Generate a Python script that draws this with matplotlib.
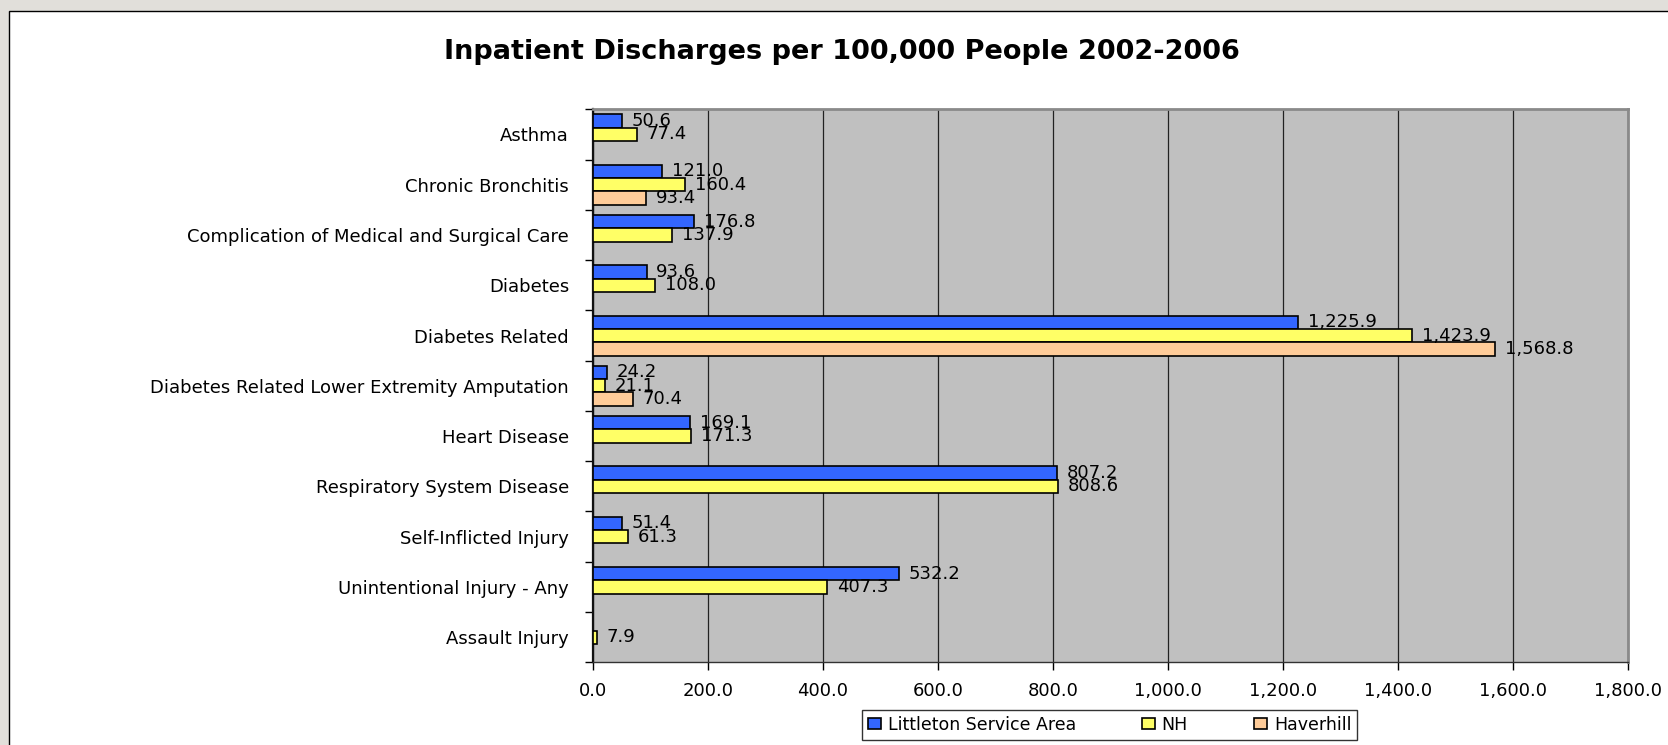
import matplotlib
matplotlib.use("Agg")
import matplotlib.pyplot as plt
import numpy as np
from matplotlib.patches import Rectangle

# ---------------- data ----------------
categories = [
    "Asthma",
    "Chronic Bronchitis",
    "Complication of Medical and Surgical Care",
    "Diabetes",
    "Diabetes Related",
    "Diabetes Related Lower Extremity Amputation",
    "Heart Disease",
    "Respiratory System Disease",
    "Self-Inflicted Injury",
    "Unintentional Injury - Any",
    "Assault Injury",
]
littleton = [50.6, 121.0, 176.8, 93.6, 1225.9, 24.2, 169.1, 807.2, 51.4, 532.2, np.nan]
nh = [77.4, 160.4, 137.9, 108.0, 1423.9, 21.1, 171.3, 808.6, 61.3, 407.3, 7.9]
haverhill = [np.nan, 93.4, np.nan, np.nan, 1568.8, 70.4, np.nan, np.nan, np.nan, np.nan, np.nan]
series_names = ["Littleton Service Area", "NH", "Haverhill"]
x_ticks = [0, 200, 400, 600, 800, 1000, 1200, 1400, 1600, 1800]
title = "Inpatient Discharges per 100,000 People 2002-2006"

# ---------------- style ----------------
plt.rcParams["font.family"] = ["DejaVu Sans"]
colors = ["#3366FF", "#FFFF66", "#FFCC99"]
W, H = 1668, 745
fig = plt.figure(figsize=(W / 100, H / 100), dpi=100, facecolor="#E1DFDA")

# white panel with black frame (behind everything)
fig.patches.append(Rectangle((8.5 / W, -0.1), 1.2, 1 - 10.5 / H + 0.1,
                             transform=fig.transFigure, facecolor="white",
                             edgecolor="black", linewidth=1.0, zorder=-10))

ax_l, ax_r, ax_t, ax_b = 592.7, 1628.3, 109.3, 662.3
ax = fig.add_axes([ax_l / W, 1 - ax_b / H, (ax_r - ax_l) / W, (ax_b - ax_t) / H])
ax.set_zorder(1)
ax.set_facecolor("#C0C0C0")

n = len(categories)
y = np.arange(n)
bh = 0.265
offsets = [-bh, 0.0, bh]
handles = []
for vals, col, off, name in zip([littleton, nh, haverhill], colors, offsets, series_names):
    vals = np.array(vals, dtype=float)
    idx = np.where(~np.isnan(vals))[0]
    bars = ax.barh(y[idx] + off, vals[idx], height=bh, color=col,
                   edgecolor="black", linewidth=1.2, label=name, zorder=3)
    handles.append(bars)
    for i in idx:
        ax.annotate(f"{vals[i]:,.1f}", xy=(vals[i], y[i] + off), xytext=(7, 0),
                    textcoords="offset points", ha="left", va="center",
                    fontsize=13, color="black", zorder=4)

ax.set_xlim(0, 1800)
ax.set_ylim(n - 0.5, -0.5)
ax.set_xticks(x_ticks)
ax.set_xticklabels([f"{v:,.1f}" for v in x_ticks], fontsize=13)
ax.set_yticks(y)
ax.set_yticklabels(categories, fontsize=13)
ax.set_yticks(np.arange(n + 1) - 0.5, minor=True)
ax.tick_params(axis="y", which="major", length=0, pad=17)
ax.tick_params(axis="y", which="minor", length=6, width=1, color="black", direction="out")
ax.tick_params(axis="x", which="major", length=6, width=1, color="black", direction="out", pad=8)

ax.xaxis.grid(True, color="#222222", linewidth=0.9, zorder=1)
ax.set_axisbelow(True)

ax.spines["left"].set_color("#111111")
ax.spines["left"].set_linewidth(1.6)
ax.spines["bottom"].set_color("#333333")
ax.spines["bottom"].set_linewidth(1.0)
for s in ("top", "right"):
    ax.spines[s].set_color("#8A8A8A")
    ax.spines[s].set_linewidth(2.0)

fig.text(842 / W, 1 - 52.3 / H, title, ha="center", va="center",
         fontsize=19.5, fontweight="bold", color="black")

leg = fig.legend(handles, series_names, loc="center",
                 bbox_to_anchor=(1109.5 / W, 1 - 725 / H), ncol=3, fontsize=12.5,
                 frameon=True, fancybox=False, edgecolor="black",
                 handlelength=0.75, handleheight=0.6, handletextpad=0.4,
                 columnspacing=3.8, borderpad=0.35)
leg.get_frame().set_linewidth(1.0)
leg.get_frame().set_facecolor("white")

fig.savefig("out.png", dpi=100, facecolor=fig.get_facecolor())
